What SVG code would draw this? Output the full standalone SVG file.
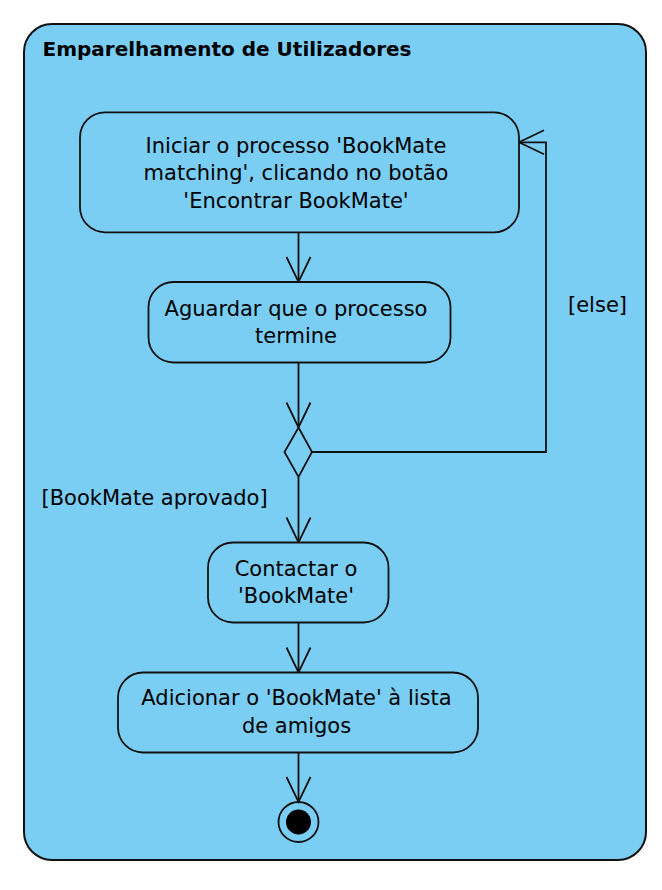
<svg xmlns="http://www.w3.org/2000/svg" width="662" height="890" viewBox="0 0 662 890">
<style>
.frame{fill:#7ACEF4;stroke:#111;stroke-width:2}
.node{fill:#7ACEF4;stroke:#111;stroke-width:1.8}
.lbl{font-family:"DejaVu Sans","Liberation Sans",sans-serif;font-size:21px;fill:#000}
.ctr{text-anchor:middle}
.title{font-family:"DejaVu Sans","Liberation Sans",sans-serif;font-size:20px;font-weight:bold;fill:#000}
.edge{fill:none;stroke:#111;stroke-width:1.8}
</style>
<defs>
<marker id="arr" viewBox="-30 -16 34 32" markerWidth="34" markerHeight="32" refX="0" refY="0" orient="auto" markerUnits="userSpaceOnUse" overflow="visible">
<path d="M-25,-12 L0,0 L-25,12" fill="none" stroke="#111" stroke-width="1.8"/>
</marker>
</defs>
<rect class="frame" x="24" y="24" width="622" height="836" rx="28" ry="28"/>
<text class="title" x="42.5" y="56">Emparelhamento de Utilizadores</text>
<g id="connectors">
<path class="edge" d="M298.5,232.3 L298.5,282" marker-end="url(#arr)"/>
<path class="edge" d="M298.5,362.5 L298.5,427.5" marker-end="url(#arr)"/>
<path class="edge" d="M312,452 L546,452 L546,142.3 L519,142.3" marker-end="url(#arr)"/>
<path class="edge" d="M298.5,477 L298.5,542.5" marker-end="url(#arr)"/>
<path class="edge" d="M298.5,622.7 L298.5,672.5" marker-end="url(#arr)"/>
<path class="edge" d="M298.5,752.7 L298.5,802" marker-end="url(#arr)"/>
<text class="lbl" x="568" y="312">[else]</text>
<text class="lbl" x="41.5" y="505">[BookMate aprovado]</text>
</g>
<g id="n1">
<rect class="node" x="80" y="112.3" width="439" height="120" rx="25" ry="25"/>
<text class="lbl ctr" x="296" y="152.5">Iniciar o processo 'BookMate</text>
<text class="lbl ctr" x="296" y="180.3">matching', clicando no botão</text>
<text class="lbl ctr" x="296" y="207.5">'Encontrar BookMate'</text>
</g>
<g id="n2">
<rect class="node" x="148.5" y="282" width="302" height="80.5" rx="25" ry="25"/>
<text class="lbl ctr" x="296" y="315.7">Aguardar que o processo</text>
<text class="lbl ctr" x="296" y="343.3">termine</text>
</g>
<g id="decision">
<path class="node" d="M298.5,427.5 L312,452 L298.5,477 L284.5,452 Z"/>
</g>
<g id="n3">
<rect class="node" x="208" y="542.5" width="180.5" height="80" rx="25" ry="25"/>
<text class="lbl ctr" x="296" y="576">Contactar o</text>
<text class="lbl ctr" x="296" y="603.3">'BookMate'</text>
</g>
<g id="n4">
<rect class="node" x="118" y="672.5" width="360" height="80" rx="25" ry="25"/>
<text class="lbl ctr" x="296.5" y="705.3">Adicionar o 'BookMate' à lista</text>
<text class="lbl ctr" x="296.5" y="733">de amigos</text>
</g>
<g id="final">
<circle cx="298.5" cy="822" r="20" fill="none" stroke="#111" stroke-width="1.8"/>
<circle cx="298.5" cy="822" r="12.5" fill="#000"/>
</g>
</svg>
